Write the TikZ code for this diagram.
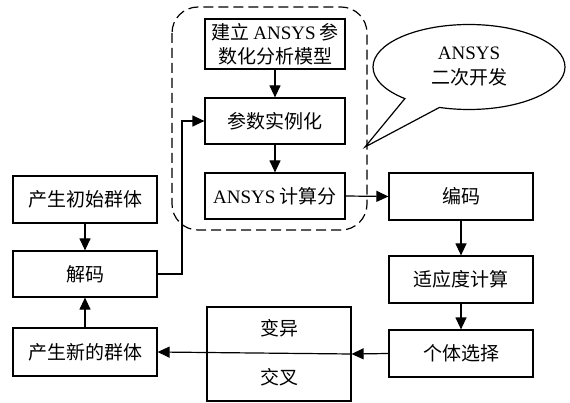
\documentclass[tikz,border=0pt]{standalone}
\usepackage{fontspec}
\setmainfont{Noto Sans CJK SC}
\newfontfamily\lat{Liberation Serif}
\usetikzlibrary{arrows.meta,shapes.callouts,shapes.geometric}
\begin{document}
\begin{tikzpicture}[x=1pt,y=-1pt,
  txt/.style={font=\fontsize{19}{24}\selectfont},
  box/.style={draw,line width=1.2pt,minimum width=144pt,minimum height=47pt,inner sep=0pt,txt,align=center},
  cbox/.style={box,minimum width=140pt},
  arr/.style={line width=1.2pt,-{Triangle[length=12pt,width=11pt]}},
  ln/.style={line width=1.2pt}]
\useasboundingbox (0,0) rectangle (570,403);
\fill[white] (0,0) rectangle (570,403);
% dashed group
\draw[line width=1.2pt,dash pattern=on 10pt off 5pt,rounded corners=26pt] (172,7) rectangle (367,230);
% left column
\node[box] (init) at (85,199.5) {产生初始群体};
\node[box,minimum height=46pt] (decode) at (85,274) {解码};
\node[box,minimum height=48pt] (newpop) at (85,352) {产生新的群体};
% centre column
\node[cbox,minimum height=50pt] (model) at (275,44) {建立 {\lat ANSYS} 参\\数化分析模型};
\node[cbox,minimum height=46pt] (inst) at (275,121) {参数实例化};
\node[cbox,minimum height=46pt] (calc) at (275,196) {{\lat ANSYS} 计算分};
\node[box,minimum height=94pt] (vc) at (279,354) {};
\node[txt] (var) at (279,328) {变异};
\node[txt] (cross) at (279,377) {交叉};
% right column
\node[box] (encode) at (461,196.5) {编码};
\node[box] (fit) at (461,279.5) {适应度计算};
\node[box] (sel) at (461,353.5) {个体选择};
% callout
\node[ellipse callout,draw,line width=1.2pt,minimum width=192pt,minimum height=85pt,
  callout absolute pointer={(365,147)},callout pointer arc=24,
  font=\fontsize{19}{25}\selectfont,align=center] (ansys) at (469,67) {{\lat ANSYS}\\二次开发};
% connectors
\draw[arr] (model) -- (inst);
\draw[arr] (inst) -- (calc);
\draw[arr] (calc.east) -- (encode.west);
\draw[arr] (encode) -- (fit);
\draw[arr] (fit) -- (sel);
\draw[arr] (sel.west) -- (vc.east);
\draw[arr] (vc.east) -- (newpop.east);
\draw[arr] (init) -- (decode);
\draw[arr] (newpop) -- (decode);
\coordinate (turn1) at (182,274);
\coordinate (turn2) at (182,121);
\draw[arr] (decode.east) -- (turn1) -- (turn2) -- (inst.west);
\end{tikzpicture}
\end{document}
